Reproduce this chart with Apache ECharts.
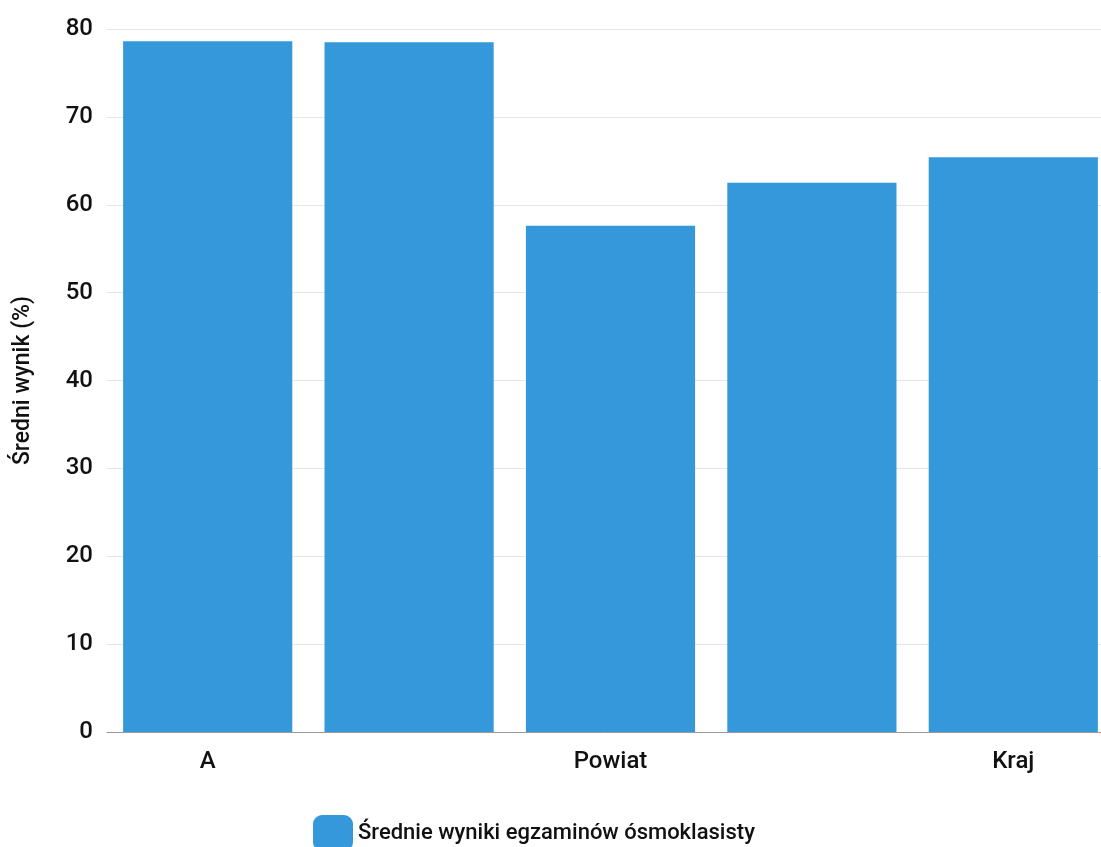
<!DOCTYPE html>
<html>
<head>
<meta charset="utf-8">
<script src="https://cdn.jsdelivr.net/npm/echarts@6/dist/echarts.min.js"></script>
<style>html,body{margin:0;padding:0;background:#fff}#c{width:1101px;height:847px}</style>
</head>
<body>
<div id="c"></div>
<script>
const categories = ['A', 'Gmina', 'Powiat', 'Województwo', 'Kraj'];
const values = [78.6, 78.5, 57.6, 62.5, 65.4];
const seriesName = 'Średnie wyniki egzaminów ósmoklasisty';
const yTitle = 'Średni wynik (%)';

const chart = echarts.init(document.getElementById('c'), null, {renderer: 'canvas'});
chart.setOption({
  animation: false,
  textStyle: {fontFamily: 'Roboto'},
  grid: {left: 107, width: 1007, top: 29, bottom: 115, containLabel: false, outerBoundsMode: 'none'},
  legend: {
    left: 308, top: 810,
    itemWidth: 40, itemHeight: 36, itemGap: 8,
    icon: 'roundRect',
    textStyle: {fontSize: 22, color: '#111', fontFamily: 'Roboto', fontWeight: 500},
    data: [seriesName]
  },
  xAxis: {
    type: 'category',
    data: categories,
    axisTick: {show: false},
    axisLine: {lineStyle: {color: '#999', width: 1}},
    axisLabel: {interval: 1, fontSize: 24, color: '#111', margin: 18, fontWeight: 500}
  },
  yAxis: {
    type: 'value',
    min: 0, max: 80, interval: 10,
    name: yTitle,
    nameLocation: 'middle',
    nameGap: 72,
    nameTextStyle: {fontSize: 23, color: '#111', fontWeight: 500},
    axisLabel: {fontSize: 24, color: '#111', margin: 14, fontWeight: 500},
    splitLine: {lineStyle: {color: '#e6e6e6'}},
    axisLine: {show: false},
    axisTick: {show: false}
  },
  series: [{
    name: seriesName,
    type: 'bar',
    data: values,
    barCategoryGap: '16%',
    itemStyle: {color: '#3498db'}
  }]
});
</script>
</body>
</html>
